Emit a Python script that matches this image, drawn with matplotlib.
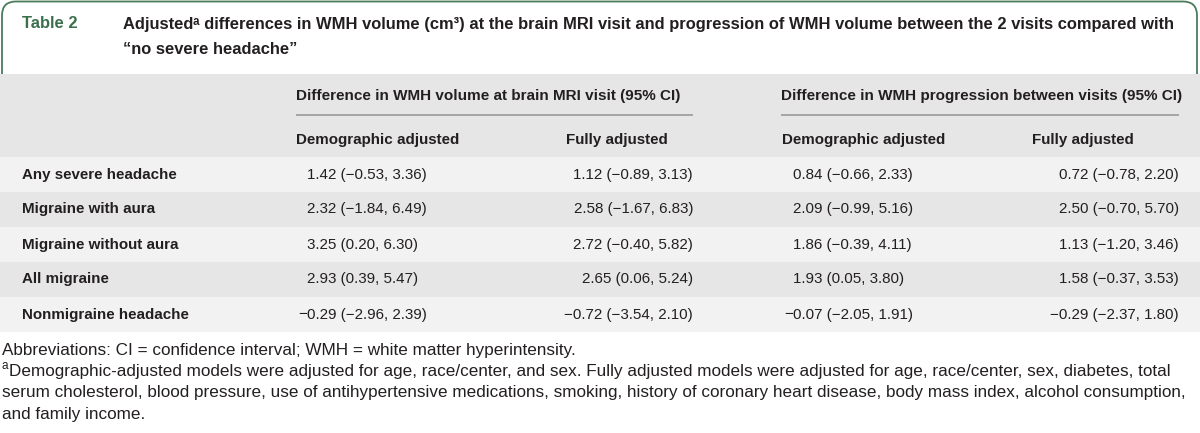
import matplotlib.pyplot as plt
from matplotlib.patches import FancyBboxPatch, Rectangle

plt.rcParams['font.family'] = ['Liberation Sans', 'DejaVu Sans']

# ---- table content ----
table_label = 'Table 2'
title_lines = ['Adjustedᵃ differences in WMH volume (cm³) at the brain MRI visit and progression of WMH volume between the 2 visits compared with',
               '“no severe headache”']
group_headers = ['Difference in WMH volume at brain MRI visit (95% CI)',
                 'Difference in WMH progression between visits (95% CI)']
sub_headers = ['Demographic adjusted', 'Fully adjusted', 'Demographic adjusted', 'Fully adjusted']
row_labels = ['Any severe headache', 'Migraine with aura', 'Migraine without aura',
              'All migraine', 'Nonmigraine headache']
mri_demo = ['1.42 (−0.53, 3.36)', '2.32 (−1.84, 6.49)', '3.25 (0.20, 6.30)',
            '2.93 (0.39, 5.47)', '−0.29 (−2.96, 2.39)']
mri_full = ['1.12 (−0.89, 3.13)', '2.58 (−1.67, 6.83)', '2.72 (−0.40, 5.82)',
            '2.65 (0.06, 5.24)', '−0.72 (−3.54, 2.10)']
prog_demo = ['0.84 (−0.66, 2.33)', '2.09 (−0.99, 5.16)', '1.86 (−0.39, 4.11)',
             '1.93 (0.05, 3.80)', '−0.07 (−2.05, 1.91)']
prog_full = ['0.72 (−0.78, 2.20)', '2.50 (−0.70, 5.70)', '1.13 (−1.20, 3.46)',
             '1.58 (−0.37, 3.53)', '−0.29 (−2.37, 1.80)']
footnote_abbrev = 'Abbreviations: CI = confidence interval; WMH = white matter hyperintensity.'
footnote_mark = 'a'
footnote_lines = ['Demographic-adjusted models were adjusted for age, race/center, and sex. Fully adjusted models were adjusted for age, race/center, sex, diabetes, total',
                  'serum cholesterol, blood pressure, use of antihypertensive medications, smoking, history of coronary heart disease, body mass index, alcohol consumption,',
                  'and family income.']

# ---- style ----
green = '#4a7c5a'
text_green = '#3c6f4d'
dark = '#231f20'
head_grey = '#e6e6e6'
light_row = '#f2f2f2'
fs_head = 10.95
fs_body = 10.9
fs_title = 11.9
fs_note = 12.3

fig = plt.figure(figsize=(12, 4.33), dpi=100)
ax = fig.add_axes([0, 0, 1, 1])
ax.set_xlim(0, 1200)
ax.set_ylim(433, 0)
ax.axis('off')

# title box with rounded top corners
box = FancyBboxPatch((2, 1.5), 1195, 110, boxstyle='round,pad=0,rounding_size=14',
                     facecolor='white', edgecolor=green, linewidth=1.3)
ax.add_patch(box)
ax.text(22, 24, table_label, color=text_green, fontsize=fs_title, fontweight='bold', va='center')
ax.text(123, 24, title_lines[0], color=dark, fontsize=fs_title, fontweight='bold', va='center')
ax.text(123, 50, title_lines[1], color=dark, fontsize=fs_title, fontweight='bold', va='center')

# header background
ax.add_patch(Rectangle((0, 74), 1200, 83, facecolor=head_grey, edgecolor='none'))

# group headers with underline
group_x = [(296, 693), (781, 1179)]
for (x0, x1), txt in zip(group_x, group_headers):
    ax.text(x0, 96, txt, color=dark, fontsize=fs_head, fontweight='bold', va='center')
    ax.plot([x0, x1], [115, 115], color='#9a9a9a', lw=1.2, solid_capstyle='butt')

sub_x = [296, 566, 782, 1032]
for x, txt in zip(sub_x, sub_headers):
    ax.text(x, 140, txt, color=dark, fontsize=fs_body, fontweight='bold', va='center')

# body rows
row_top = 157
row_h = 35
for i, label in enumerate(row_labels):
    y0 = row_top + i * row_h
    ax.add_patch(Rectangle((0, y0), 1200, row_h, facecolor=light_row if i % 2 == 0 else head_grey,
                           edgecolor='none'))
    yc = y0 + row_h / 2
    ax.text(22, yc, label, color=dark, fontsize=fs_body, fontweight='bold', va='center')

    # demographic columns: leading digit aligned, minus sign hangs left
    for x, vals in [(307, mri_demo), (793, prog_demo)]:
        v = vals[i]
        if v.startswith('−'):
            ax.text(x, yc, '−', color=dark, fontsize=fs_body, va='center', ha='right')
            v = v[1:]
        ax.text(x, yc, v, color=dark, fontsize=fs_body, va='center', ha='left')
    # fully adjusted columns: right aligned
    for x, vals in [(693, mri_full), (1179, prog_full)]:
        ax.text(x, yc, vals[i], color=dark, fontsize=fs_body, va='center', ha='right')

# footnotes
ax.text(2, 350, footnote_abbrev, color=dark, fontsize=fs_note, va='center')
ax.text(2, 366, footnote_mark, color=dark, fontsize=8.5, va='center')
for j, line in enumerate(footnote_lines):
    ax.text(9 if j == 0 else 2, 371.5 + j * 21.5, line, color=dark, fontsize=fs_note, va='center')

plt.savefig('out.png', dpi=100)
